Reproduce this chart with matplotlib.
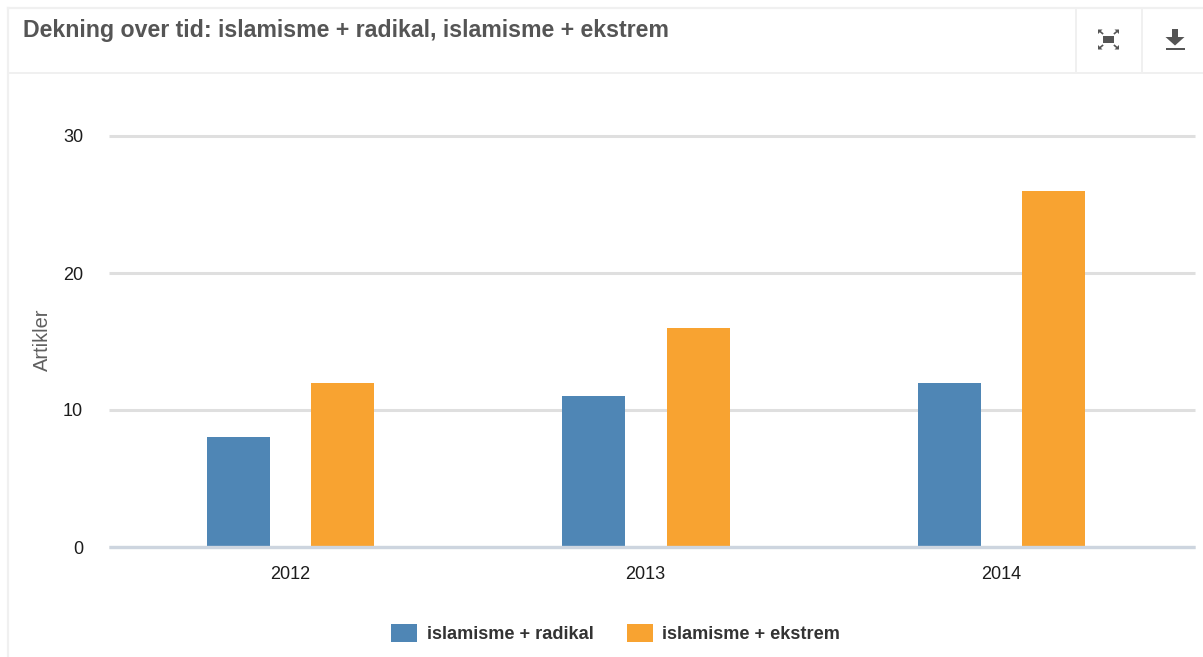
import matplotlib
matplotlib.use("Agg")
import matplotlib.pyplot as plt
from matplotlib.patches import Polygon, Rectangle
import numpy as np

years = ["2012", "2013", "2014"]
radikal = [8, 11, 12]
ekstrem = [12, 16, 26]
series_names = ["islamisme + radikal", "islamisme + ekstrem"]
title = "Dekning over tid: islamisme + radikal, islamisme + ekstrem"
y_label = "Artikler"
y_ticks = [0, 10, 20, 30]

W, H = 1203, 657
plt.rcParams["font.family"] = ["Liberation Sans", "DejaVu Sans"]
fig = plt.figure(figsize=(W / 100, H / 100), dpi=100, facecolor="white")

# pixel overlay for the panel frame and header
ov = fig.add_axes([0, 0, 1, 1], zorder=0)
ov.set_xlim(0, W); ov.set_ylim(H, 0); ov.axis("off")
line = "#f0f0f0"
ov.plot([8, 8], [8, H], color=line, lw=1.6)
ov.plot([8, W], [8, 8], color=line, lw=1.6)
ov.plot([8, W], [72.5, 72.5], color=line, lw=1.4)
ov.plot([1075.5, 1075.5], [8, 72], color=line, lw=1.4)
ov.plot([1142, 1142], [8, 72], color=line, lw=1.4)
t_obj = ov.text(23, 31, title, fontsize=16.8, fontweight="bold", color="#555555", va="center", ha="left")
t_obj.set_fontstretch("normal")
t_obj.set_fontsize(16.7)
t_obj.set_wrap(False)
t_obj.set_text(title)
# fine spacing: the hinted widths jump between sizes
t_obj.set_x(23)

# fullscreen icon
ic = "#555555"
ov.add_patch(Rectangle((1103, 36), 11, 7, color=ic, lw=0))
for sx, sy in [(-1, -1), (1, -1), (-1, 1), (1, 1)]:
    cx, cy = 1108.5 + sx * 9, 39.5 + sy * 8.5
    ov.add_patch(Polygon([(cx + sx * 1.5, cy + sy * 1.5), (cx - sx * 3, cy + sy * 1.5), (cx + sx * 1.5, cy - sy * 3)], color=ic, lw=0))
    ov.plot([cx, cx - sx * 3], [cy, cy - sy * 2.5], color=ic, lw=1.2)

# download icon
ov.add_patch(Polygon([(1172, 29), (1178, 29), (1178, 37), (1184.5, 37), (1175, 45.5), (1165.5, 37), (1172, 37)], color=ic, lw=0))
ov.add_patch(Rectangle((1166, 47.5), 19, 2, color=ic, lw=0))

# chart
left, right, top, bottom = 109, 1195, 136, 547
ax = fig.add_axes([left / W, 1 - bottom / H, (right - left) / W, (bottom - top) / H], zorder=1)
ax.patch.set_alpha(0)
x = np.arange(len(years))
bw = 63 / 355.5
off_a = 52 / 355.5
off_b = 52.5 / 355.5
blue, orange = "#4f86b5", "#f8a331"
b1 = ax.bar(x - off_a, radikal, bw, color=blue, label=series_names[0], zorder=3)
b2 = ax.bar(x + off_b, ekstrem, bw, color=orange, label=series_names[1], zorder=3)
ax.set_xlim((left - 290) / 355.5, (right - 290) / 355.5)
ax.set_ylim(0, 30)
ax.set_yticks(y_ticks)
ax.set_xticks(x, years)
ax.grid(axis="y", color="#dfdfdf", lw=2.2, zorder=1)
ax.set_axisbelow(True)
for s in ["top", "right", "left"]:
    ax.spines[s].set_visible(False)
ax.spines["bottom"].set_color("#cdd5df")
ax.spines["bottom"].set_linewidth(2.4)
ax.spines["bottom"].set_zorder(4)
ax.spines["bottom"].set_capstyle("butt")
for t in ax.yaxis.get_gridlines():
    t.set_clip_on(False)
    t.set_solid_capstyle("butt")
ax.tick_params(axis="both", length=0, labelsize=13, labelcolor="#1c1c1c")
ax.tick_params(axis="x", pad=14)
ax.tick_params(axis="y", pad=18.7)
ax.set_ylabel(y_label, fontsize=14.4, color="#606060")
ax.yaxis.set_label_coords((52 - left) / (right - left), 0.504)

# legend
handles = [b1, b2]
leg = fig.legend(handles=handles, labels=series_names, loc="center", bbox_to_anchor=(615.5 / W, 1 - 633.5 / H),
                 ncol=2, frameon=False, prop={"size": 13.1, "weight": "bold"},
                 handlelength=1.44, handleheight=1.1, handletextpad=0.5, columnspacing=1.83,
                 labelcolor="#333333")

fig.savefig("out.png", dpi=100, facecolor="white")
